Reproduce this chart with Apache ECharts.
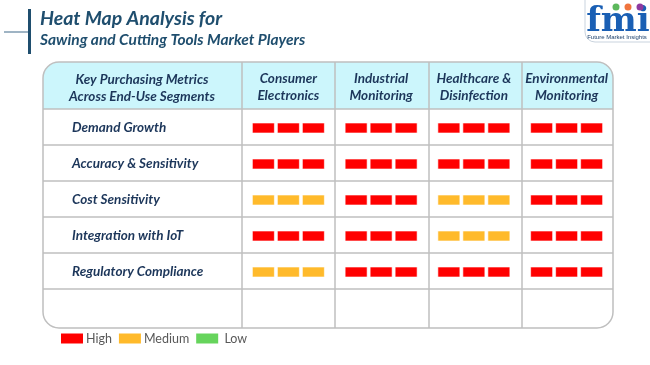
<!DOCTYPE html>
<html>
<head>
<meta charset="utf-8">
<script src="https://cdn.jsdelivr.net/npm/echarts@6/dist/echarts.min.js"></script>
<style>html,body{margin:0;padding:0;background:#fff}#c{width:650px;height:365px}</style>
</head>
<body>
<div id="c"></div>
<script>
const titleLine1 = 'Heat Map Analysis for';
const titleLine2 = 'Sawing and Cutting Tools Market Players';
const cornerHeader = 'Key Purchasing Metrics\nAcross End-Use Segments';
const segments = ['Consumer\nElectronics', 'Industrial\nMonitoring', 'Healthcare &\nDisinfection', 'Environmental\nMonitoring'];
const metrics = ['Demand Growth', 'Accuracy & Sensitivity', 'Cost Sensitivity', 'Integration with IoT', 'Regulatory Compliance'];
const levels = ['High', 'Medium', 'Low'];
const levelColors = ['#ff0000', '#ffba2b', '#66d45c'];
// rows = metrics, entries = segment columns
const demandGrowth = ['High', 'High', 'High', 'High'];
const accuracySensitivity = ['High', 'High', 'High', 'High'];
const costSensitivity = ['Medium', 'High', 'Medium', 'High'];
const integrationIoT = ['High', 'High', 'Medium', 'High'];
const regulatoryCompliance = ['Medium', 'High', 'High', 'High'];
const matrix = [demandGrowth, accuracySensitivity, costSensitivity, integrationIoT, regulatoryCompliance];

const navy = '#1c365a';
const lineColor = '#bfbfbf';

function seriesFor(level, idx) {
  const data = [];
  matrix.forEach((row, r) => row.forEach((v, c) => { if (v === level) data.push([c, r]); }));
  return {
    name: level,
    type: 'custom',
    coordinateSystem: 'cartesian2d',
    itemStyle: { color: levelColors[idx] },
    data: data,
    renderItem: function (params, api) {
      const p = api.coord([api.value(0), api.value(1)]);
      const color = api.visual('color');
      const w = 22, h = 10, gap = 3;
      const children = [];
      for (let k = -1; k <= 1; k++) {
        children.push({
          type: 'rect',
          shape: { x: p[0] + k * (w + gap) - w / 2, y: p[1] - h / 2 + 1, width: w, height: h },
          style: { fill: color, stroke: 'rgba(255,255,255,0.6)', lineWidth: 1 }
        });
      }
      return { type: 'group', children: children };
    }
  };
}

const tableLeft = 43, tableRight = 613, tableTop = 62, tableBottom = 328, headerBottom = 109;
const hLines = [109, 145, 181, 217, 253, 289];
const vLines = [242, 335, 429, 522];

const graphics = [];
graphics.push({ type: 'rect', shape: { x: tableLeft, y: tableTop, width: tableRight - tableLeft, height: headerBottom - tableTop, r: [16, 16, 0, 0] }, style: { fill: '#ccf6fc' } });
hLines.forEach(y => graphics.push({ type: 'line', shape: { x1: tableLeft, y1: y, x2: tableRight, y2: y }, style: { stroke: lineColor, lineWidth: 1.5 } }));
vLines.forEach(x => graphics.push({ type: 'line', shape: { x1: x, y1: tableTop, x2: x, y2: tableBottom }, style: { stroke: lineColor, lineWidth: 1.5 } }));
graphics.push({ type: 'rect', shape: { x: tableLeft, y: tableTop, width: tableRight - tableLeft, height: tableBottom - tableTop, r: 16 }, style: { fill: 'none', stroke: lineColor, lineWidth: 1.5 } });
graphics.push({ type: 'text', style: { text: cornerHeader, x: 142, y: 88, align: 'center', verticalAlign: 'middle', font: 'italic bold 13.5px Lato', lineHeight: 17, fill: navy } });
// title decoration
graphics.push({ type: 'line', shape: { x1: 4, y1: 32, x2: 30, y2: 32 }, style: { stroke: '#7f9bb0', lineWidth: 1.5 } });
graphics.push({ type: 'rect', shape: { x: 28, y: 9, width: 3, height: 45 }, style: { fill: '#1f4e6e' } });
graphics.push({ type: 'text', style: { text: titleLine1, x: 40, y: 19, verticalAlign: 'middle', font: 'italic bold 19.5px Lato', fill: '#1f4e6e' } });
graphics.push({ type: 'text', style: { text: titleLine2, x: 40, y: 40, verticalAlign: 'middle', font: 'italic bold 15.5px Lato', fill: '#1f4e6e' } });
// logo
graphics.push({ type: 'rect', shape: { x: 585, y: -12, width: 80, height: 54, r: 10 }, style: { fill: '#fff', stroke: '#c9d3de', lineWidth: 1 } });
graphics.push({ type: 'text', style: { text: 'fmi', x: 618, y: 22, align: 'center', verticalAlign: 'middle', font: 'bold 34px "DejaVu Serif"', fill: '#1a5fb4' } });
graphics.push({ type: 'circle', shape: { cx: 616, cy: 7, r: 3.5 }, style: { fill: '#5cb85c' } });
graphics.push({ type: 'circle', shape: { cx: 628, cy: 7, r: 3.5 }, style: { fill: '#f0743e' } });
graphics.push({ type: 'circle', shape: { cx: 640, cy: 7, r: 3.5 }, style: { fill: '#8e3aa0' } });
graphics.push({ type: 'text', style: { text: 'Future Market Insights', x: 617, y: 37, align: 'center', verticalAlign: 'middle', font: '6px "Liberation Sans"', fill: '#1a3f6b' } });

const chart = echarts.init(document.getElementById('c'), null, { renderer: 'canvas' });
chart.setOption({
  animation: false,
  backgroundColor: '#ffffff',
  grid: { left: 242, right: 37, top: 109, bottom: 76 },
  xAxis: {
    type: 'category', data: segments, position: 'top',
    axisLine: { show: false }, axisTick: { show: false }, splitLine: { show: false },
    axisLabel: { margin: 5, color: navy, fontFamily: 'Lato', fontStyle: 'italic', fontWeight: 'bold', fontSize: 13.5, lineHeight: 17, interval: 0 }
  },
  yAxis: {
    type: 'category', data: metrics, inverse: true,
    axisLine: { show: false }, axisTick: { show: false }, splitLine: { show: false },
    axisLabel: { margin: 170, align: 'left', verticalAlign: 'top', color: navy, fontFamily: 'Lato', fontStyle: 'italic', fontWeight: 'bold', fontSize: 13.5, padding: [-6, 0, 0, 0] }
  },
  legend: {
    left: 56, top: 327, itemWidth: 22, itemHeight: 10, itemGap: 7,
    icon: 'rect',
    formatter: function (n) { return n === 'Low' ? ' ' + n : n; },
    textStyle: { color: '#595959', fontFamily: 'Lato', fontSize: 12.5, padding: [0, 0, 0, -2] },
    data: levels
  },
  graphic: graphics,
  series: levels.map(seriesFor)
});
</script>
</body>
</html>
